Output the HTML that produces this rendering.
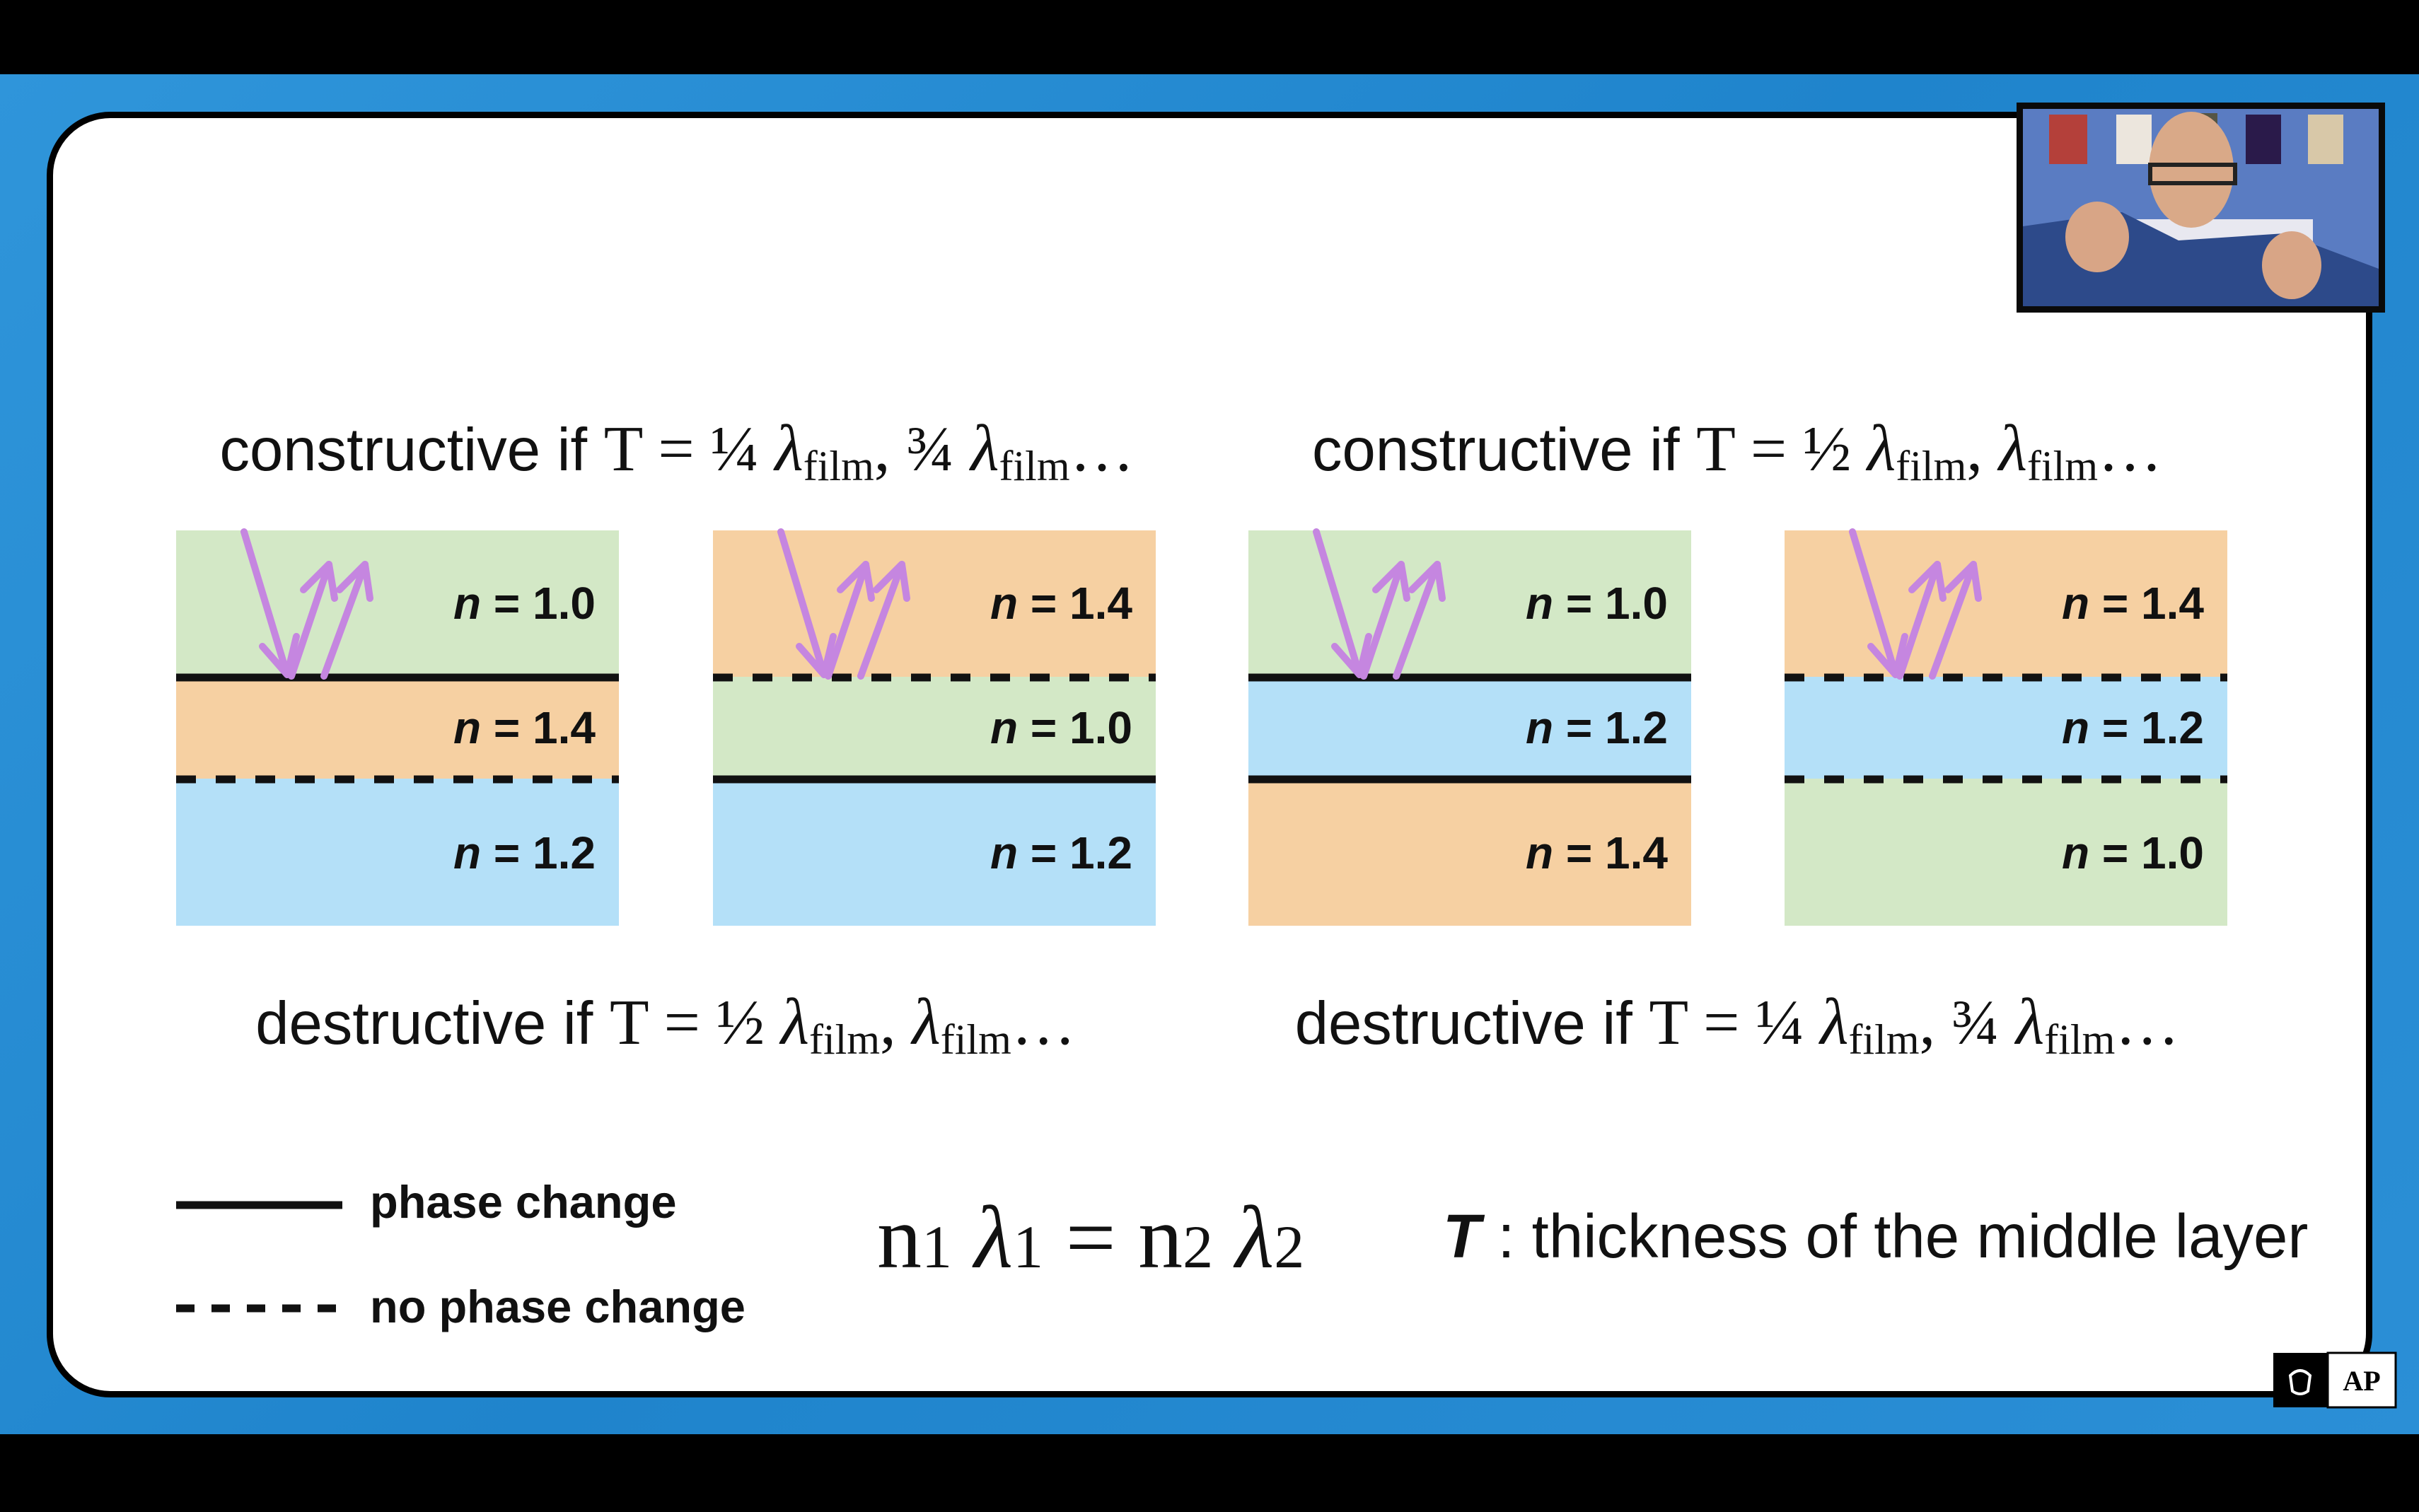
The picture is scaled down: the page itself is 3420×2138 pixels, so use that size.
<!DOCTYPE html>
<html><head><meta charset="utf-8">
<style>
html,body{margin:0;padding:0}
body{width:3420px;height:2138px;position:relative;overflow:hidden;background:#000;font-family:"Liberation Sans",sans-serif}
.abs{position:absolute}
.bg{left:0;top:105px;width:3420px;height:1923px;background:linear-gradient(135deg,#2f95da,#1f84cc 50%,#2b8fd6)}
.card{left:66px;top:158px;width:3270px;height:1800px;background:#fff;border:9px solid #000;border-radius:90px}
.head{font-size:85px;white-space:nowrap;color:#111;text-align:center;line-height:100px}
.s{font-family:"Liberation Serif",serif;font-size:91px}
.l{font-family:"Liberation Serif",serif;font-style:italic;font-size:93px}
.sub{font-family:"Liberation Serif",serif;font-size:60px;position:relative;top:14px}
</style></head><body>
<div class="abs bg"></div>
<div class="abs card"></div>

<div class="abs head" style="left:257px;top:585px;width:1400px">constructive if <span class="s">T = ¼ </span><span class="l">λ</span><span class="sub">film</span><span class="s">, ¾ </span><span class="l">λ</span><span class="sub">film</span><span class="s">…</span></div>
<div class="abs head" style="left:1756px;top:585px;width:1400px">constructive if <span class="s">T = ½ </span><span class="l">λ</span><span class="sub">film</span><span class="s">, </span><span class="l">λ</span><span class="sub">film</span><span class="s">…</span></div>
<div class="abs head" style="left:241px;top:1396px;width:1400px">destructive if <span class="s">T = ½ </span><span class="l">λ</span><span class="sub">film</span><span class="s">, </span><span class="l">λ</span><span class="sub">film</span><span class="s">…</span></div>
<div class="abs head" style="left:1756px;top:1396px;width:1400px">destructive if <span class="s">T = ¼ </span><span class="l">λ</span><span class="sub">film</span><span class="s">, ¾ </span><span class="l">λ</span><span class="sub">film</span><span class="s">…</span></div>

<svg class="abs" style="left:0;top:0" width="3420" height="2138" xmlns="http://www.w3.org/2000/svg">
<defs>
<g id="arr" fill="none" stroke="#c586e0" stroke-width="10" stroke-linecap="round" stroke-linejoin="round">
<line x1="96" y1="2" x2="157" y2="204"/>
<polyline points="122,164 157,204 170,150"/>
<line x1="163" y1="206" x2="216" y2="48"/>
<polyline points="180,84 216,48 224,96"/>
<line x1="209" y1="206" x2="267" y2="48"/>
<polyline points="231,84 267,48 274,96"/>
</g>
</defs>
<g font-family="Liberation Sans, sans-serif" font-weight="bold" font-size="64" fill="#111" text-anchor="end">
<rect x="249" y="750" width="626" height="207" fill="#d3e8c6"/>
<rect x="249" y="957" width="626" height="144" fill="#f6d0a2"/>
<rect x="249" y="1101" width="626" height="208" fill="#b4e0f8"/>
<line x1="249" y1="958" x2="875" y2="958" stroke="#111" stroke-width="11"/>
<line x1="249" y1="1102" x2="875" y2="1102" stroke="#111" stroke-width="11" stroke-dasharray="28 28"/>
<use href="#arr" x="249" y="750"/>
<text x="842" y="875"><tspan font-style="italic">n</tspan> = 1.0</text>
<text x="842" y="1051"><tspan font-style="italic">n</tspan> = 1.4</text>
<text x="842" y="1228"><tspan font-style="italic">n</tspan> = 1.2</text>
<rect x="1008" y="750" width="626" height="207" fill="#f6d0a2"/>
<rect x="1008" y="957" width="626" height="144" fill="#d3e8c6"/>
<rect x="1008" y="1101" width="626" height="208" fill="#b4e0f8"/>
<line x1="1008" y1="958" x2="1634" y2="958" stroke="#111" stroke-width="11" stroke-dasharray="28 28"/>
<line x1="1008" y1="1102" x2="1634" y2="1102" stroke="#111" stroke-width="11"/>
<use href="#arr" x="1008" y="750"/>
<text x="1601" y="875"><tspan font-style="italic">n</tspan> = 1.4</text>
<text x="1601" y="1051"><tspan font-style="italic">n</tspan> = 1.0</text>
<text x="1601" y="1228"><tspan font-style="italic">n</tspan> = 1.2</text>
<rect x="1765" y="750" width="626" height="207" fill="#d3e8c6"/>
<rect x="1765" y="957" width="626" height="144" fill="#b4e0f8"/>
<rect x="1765" y="1101" width="626" height="208" fill="#f6d0a2"/>
<line x1="1765" y1="958" x2="2391" y2="958" stroke="#111" stroke-width="11"/>
<line x1="1765" y1="1102" x2="2391" y2="1102" stroke="#111" stroke-width="11"/>
<use href="#arr" x="1765" y="750"/>
<text x="2358" y="875"><tspan font-style="italic">n</tspan> = 1.0</text>
<text x="2358" y="1051"><tspan font-style="italic">n</tspan> = 1.2</text>
<text x="2358" y="1228"><tspan font-style="italic">n</tspan> = 1.4</text>
<rect x="2523" y="750" width="626" height="207" fill="#f6d0a2"/>
<rect x="2523" y="957" width="626" height="144" fill="#b4e0f8"/>
<rect x="2523" y="1101" width="626" height="208" fill="#d3e8c6"/>
<line x1="2523" y1="958" x2="3149" y2="958" stroke="#111" stroke-width="11" stroke-dasharray="28 28"/>
<line x1="2523" y1="1102" x2="3149" y2="1102" stroke="#111" stroke-width="11" stroke-dasharray="28 28"/>
<use href="#arr" x="2523" y="750"/>
<text x="3116" y="875"><tspan font-style="italic">n</tspan> = 1.4</text>
<text x="3116" y="1051"><tspan font-style="italic">n</tspan> = 1.2</text>
<text x="3116" y="1228"><tspan font-style="italic">n</tspan> = 1.0</text>
</g>
<line x1="249" y1="1704" x2="484" y2="1704" stroke="#111" stroke-width="11"/>
<line x1="249" y1="1850" x2="484" y2="1850" stroke="#111" stroke-width="11" stroke-dasharray="26 24"/>
<g font-family="Liberation Sans, sans-serif" font-weight="bold" font-size="65" fill="#111">
<text x="523" y="1722">phase change</text>
<text x="523" y="1870">no phase change</text>
</g>
<text x="1240" y="1792" font-family="Liberation Serif, serif" font-size="126" fill="#111">n<tspan font-size="86">1</tspan> <tspan font-style="italic">λ</tspan><tspan font-size="86">1</tspan> = n<tspan font-size="86">2</tspan> <tspan font-style="italic">λ</tspan><tspan font-size="86">2</tspan></text>
<text x="2040" y="1778" font-family="Liberation Sans, sans-serif" font-size="87" fill="#111"><tspan font-weight="bold" font-style="italic">T</tspan> : thickness of the middle layer</text>

<rect x="2851" y="145" width="521" height="297" fill="#0a0a0a"/>
<rect x="2860" y="154" width="503" height="279" fill="#5a7cc2"/>
<rect x="2897" y="162" width="54" height="70" fill="#b4403a"/>
<rect x="2992" y="162" width="50" height="70" fill="#ece6dd"/>
<rect x="3085" y="160" width="50" height="30" fill="#554"/>
<rect x="3175" y="162" width="50" height="70" fill="#2a1a4a"/>
<rect x="3263" y="162" width="50" height="70" fill="#d8c8a8"/>
<rect x="3000" y="310" width="270" height="60" fill="#e8e8f0"/>
<path d="M2860 320 L3000 300 L3080 340 L3230 330 L3363 380 L3363 433 L2860 433 Z" fill="#2d4a8a"/>
<ellipse cx="3098" cy="240" rx="60" ry="82" fill="#d9a988"/>
<rect x="3040" y="233" width="120" height="26" fill="none" stroke="#222" stroke-width="6"/>
<ellipse cx="2965" cy="335" rx="45" ry="50" fill="#d8a586"/>
<ellipse cx="3240" cy="375" rx="42" ry="48" fill="#d8a586"/>
<rect x="3214" y="1913" width="77" height="77" fill="#000"/>
<rect x="3291" y="1913" width="96" height="77" fill="#fff" stroke="#000" stroke-width="3"/>
<path d="M3238 1945 q14 -14 28 0 l-3 22 q-11 8 -22 0 z" fill="none" stroke="#fff" stroke-width="4"/>
<text x="3339" y="1966" text-anchor="middle" font-family="Liberation Serif, serif" font-weight="bold" font-size="40" fill="#000">AP</text>
</svg>
</body></html>
